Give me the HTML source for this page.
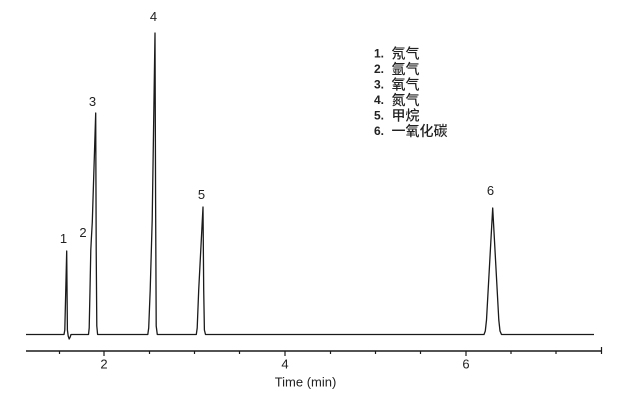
<!DOCTYPE html>
<html>
<head>
<meta charset="utf-8">
<style>
html,body{margin:0;padding:0;background:#fff;}
svg{display:block;}
text{font-family:"Liberation Sans","Noto Sans CJK SC",sans-serif;fill:#222;}
.lg{font-size:12px;}
.n{font-weight:bold;}
.c{font-family:"Noto Sans CJK SC",sans-serif;font-size:14px;font-weight:500;}
</style>
</head>
<body>
<svg width="642" height="401" viewBox="0 0 642 401" xmlns="http://www.w3.org/2000/svg">
<!-- chromatogram trace -->
<path fill="none" stroke="#1a1a1a" stroke-width="1.3" stroke-linejoin="round"
d="M26,334.5 L64,334.5 L64.8,330 L66.7,251 L67.4,330 L68.2,336 L69.2,339 L70.2,337 L71,334.5 L72,334.5
L88.5,334.5 L89.2,328 L90,290 L90.8,250 L91.4,238 L92.3,222 L95.7,113 L96.2,250 L96.8,326 L97.6,334.5
L147.8,334.5 L148.7,328 L150.2,290 L152.2,220 L155,33 L155.6,200 L156.2,326 L157.3,334.5
L196.3,334.5 L197.2,328 L198.7,290 L203,207 L203.7,290 L204.4,330 L205.5,334.5
L484,334.5 L485.3,331 L486.5,320 L492.7,208 L498.8,320 L500,331 L501.5,334.5 L594,334.5"/>
<!-- x axis -->
<line x1="26" y1="351" x2="602" y2="351" stroke="#1a1a1a" stroke-width="1.4"/>
<g stroke="#1a1a1a" stroke-width="1.2">
<line x1="59.5" y1="351" x2="59.5" y2="354"/>
<line x1="104" y1="351" x2="104" y2="356"/>
<line x1="149.5" y1="351" x2="149.5" y2="354"/>
<line x1="194.5" y1="351" x2="194.5" y2="354"/>
<line x1="239.5" y1="351" x2="239.5" y2="354"/>
<line x1="285" y1="351" x2="285" y2="356"/>
<line x1="330.5" y1="351" x2="330.5" y2="354"/>
<line x1="375.5" y1="351" x2="375.5" y2="354"/>
<line x1="420.5" y1="351" x2="420.5" y2="354"/>
<line x1="466" y1="351" x2="466" y2="356"/>
<line x1="511" y1="351" x2="511" y2="354"/>
<line x1="556" y1="351" x2="556" y2="354"/>
<line x1="601.5" y1="347" x2="601.5" y2="354"/>
</g>
<g font-size="13" text-anchor="middle">
<text x="104" y="368.5">2</text>
<text x="285" y="368.5">4</text>
<text x="466" y="368.5">6</text>
<text x="305.5" y="386.5">Time (min)</text>
</g>
<!-- peak labels -->
<g font-size="13" text-anchor="middle">
<text x="63.5" y="243">1</text>
<text x="83" y="237">2</text>
<text x="92.5" y="106">3</text>
<text x="153.5" y="21">4</text>
<text x="201.5" y="199">5</text>
<text x="490.5" y="195">6</text>
</g>
<!-- legend -->
<g class="lg">
<text x="374" y="57.5" class="n">1.</text><text x="391.5" y="58.5" class="c">氖气</text>
<text x="374" y="73" class="n">2.</text><text x="391.5" y="74" class="c">氩气</text>
<text x="374" y="88.5" class="n">3.</text><text x="391.5" y="89.5" class="c">氧气</text>
<text x="374" y="104" class="n">4.</text><text x="391.5" y="105" class="c">氮气</text>
<text x="374" y="119.5" class="n">5.</text><text x="391.5" y="120.5" class="c">甲烷</text>
<text x="374" y="135" class="n">6.</text><text x="391.5" y="136" class="c">一氧化碳</text>
</g>
</svg>
</body>
</html>
